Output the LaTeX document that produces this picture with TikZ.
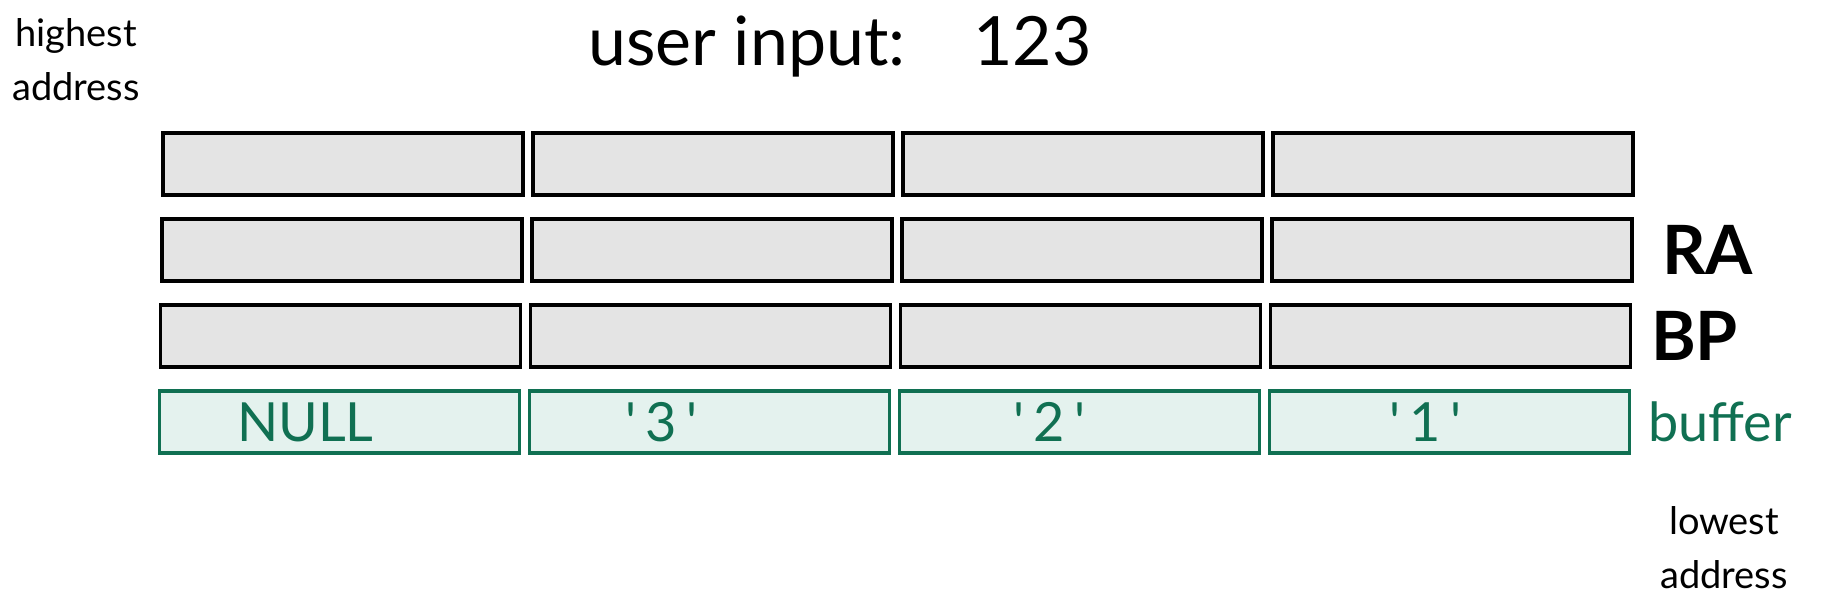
\documentclass[tikz,border=0pt]{standalone}
\usepackage{fontspec}
\setmainfont{Lato}
\usetikzlibrary{positioning}
\definecolor{cellgray}{RGB}{228,228,228}
\definecolor{bufgreen}{RGB}{16,112,82}
\definecolor{buffill}{RGB}{228,242,238}

\begin{document}
\begin{tikzpicture}[
  x=0.5pt, y=-0.5pt,
  node distance=12pt and 5pt,
  cell/.style={rectangle, draw=black, line width=1.8pt, fill=cellgray, minimum width=180pt, minimum height=31pt, inner sep=0pt, outer sep=0pt},
  bufcell/.style={cell, draw=bufgreen, fill=buffill},
  buftext/.style={text=bufgreen, font=\fontsize{27}{30}\selectfont},
  side/.style={font=\fontsize{19}{27}\selectfont, align=center},
  reg/.style={font=\bfseries\fontsize{34}{40}\selectfont, inner sep=0pt}
]
\useasboundingbox (0,0) rectangle (1832,601);

\node[font=\fontsize{34}{40}\selectfont] (title) at (840,47) {user input:\quad 123};
\node[side] (high) at (76,60) {highest\\address};

% stack rows, top to bottom
\node[cell] (top1) at (343,164) {};
\node[cell, right=of top1] (top2) {};
\node[cell, right=of top2] (top3) {};
\node[cell, right=of top3] (top4) {};

\node[cell, below=of top1, xshift=-0.6pt] (ra1) {};
\node[cell, right=of ra1] (ra2) {};
\node[cell, right=of ra2] (ra3) {};
\node[cell, right=of ra3] (ra4) {};

\node[cell, below=of ra1, xshift=-0.6pt] (bp1) {};
\node[cell, right=of bp1] (bp2) {};
\node[cell, right=of bp2] (bp3) {};
\node[cell, right=of bp3] (bp4) {};

\node[bufcell, below=of bp1, xshift=-0.6pt] (buf1) {};
\node[bufcell, right=of buf1] (buf2) {};
\node[bufcell, right=of buf2] (buf3) {};
\node[bufcell, right=of buf3] (buf4) {};

% buffer contents
\node[buftext, xshift=-17pt] (null) at (buf1) {NULL};
\node[buftext, xshift=-24pt] (three) at (buf2) {\textquotesingle\,3\,\textquotesingle};
\node[buftext, xshift=-15pt] (two) at (buf3) {\textquotesingle\,2\,\textquotesingle};
\node[buftext, xshift=-12pt] (one) at (buf4) {\textquotesingle\,1\,\textquotesingle};

% row labels
\node[reg, right=15pt of ra4] (ralabel) {RA};
\node[reg, right=10pt of bp4] (bplabel) {BP};
\node[buftext, right=6pt of buf4] (buflabel) {buffer};
\node[side] (low) at (1724,548) {lowest\\address};
\end{tikzpicture}
\end{document}
